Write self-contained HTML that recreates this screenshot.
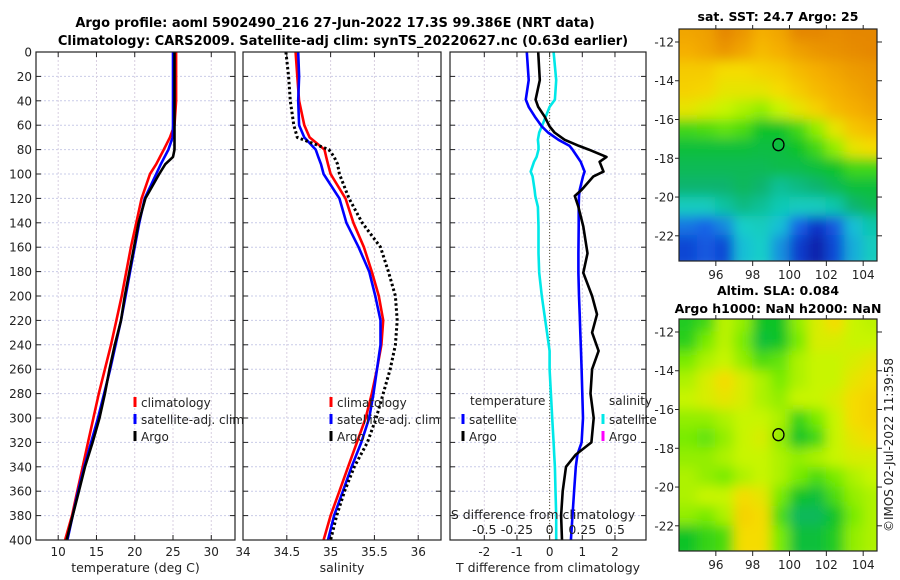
<!DOCTYPE html>
<html><head><meta charset="utf-8">
<style>
html,body{margin:0;padding:0;background:#fff;}
svg{display:block;font-family:"DejaVu Sans","Liberation Sans",sans-serif;}
</style></head>
<body>
<svg id="fig" width="900" height="580" viewBox="0 0 900 580" xmlns="http://www.w3.org/2000/svg">
<defs>
<filter id="blur1" x="-5%" y="-5%" width="110%" height="110%"><feGaussianBlur stdDeviation="6"/></filter>
<clipPath id="clipA"><rect x="679" y="29" width="198" height="232"/></clipPath>
<clipPath id="clipB"><rect x="679" y="319" width="198" height="232"/></clipPath>
</defs>
<text x="335" y="27" text-anchor="middle" font-size="13" font-weight="bold">Argo profile: aoml 5902490_216 27-Jun-2022 17.3S 99.386E (NRT data)</text>
<text x="343" y="45" text-anchor="middle" font-size="13" font-weight="bold">Climatology: CARS2009. Satellite-adj clim: synTS_20220627.nc (0.63d earlier)</text>
<g id="g"></g>
</svg>
<script>
// ---------- data ----------
const depths = [0,20,40,60,70,80,86,92,100,120,140,160,180,200,220,240,260,280,300,320,340,360,380,400];
const tempClim = [25.4,25.4,25.4,25.2,24.6,23.8,23.3,22.8,22.0,20.9,20.2,19.5,18.9,18.3,17.6,16.9,16.1,15.3,14.6,13.9,13.2,12.5,11.8,10.9];
const tempSat  = [25.0,25.0,25.0,25.0,24.95,24.4,23.9,23.4,22.8,21.3,20.6,20.0,19.4,18.8,18.2,17.5,16.8,16.0,15.2,14.3,13.4,12.6,11.9,11.2];
const tempArgo = [25.2,25.2,25.2,25.2,25.2,25.2,25.0,24.0,23.2,21.4,20.5,19.9,19.3,18.7,18.2,17.4,16.7,16.1,15.4,14.5,13.5,12.7,11.9,11.1];
const salClim  = [34.60,34.62,34.64,34.70,34.76,34.93,34.95,34.97,35.00,35.17,35.26,35.38,35.47,35.55,35.60,35.58,35.53,35.47,35.40,35.30,35.20,35.10,35.00,34.92];
const salSat   = [34.63,34.64,34.63,34.64,34.70,34.83,34.86,34.89,34.92,35.10,35.18,35.32,35.44,35.51,35.57,35.57,35.53,35.49,35.44,35.35,35.24,35.14,35.04,34.97];
const salArgo  = [34.49,34.52,34.54,34.58,34.62,34.98,35.04,35.08,35.10,35.21,35.36,35.57,35.66,35.74,35.76,35.74,35.68,35.60,35.52,35.42,35.27,35.16,35.07,35.00];
const diffDepths = [0,23,39,45,53,61,66,72,77,80,86,90,98,102,113,118,127,143,165,181,200,215,230,245,260,280,300,320,330,340,360,380,400];
const tDiffSat  = [-0.7,-0.64,-0.73,-0.64,-0.45,-0.24,-0.05,0.27,0.61,0.7,0.85,0.95,1.07,1.02,0.92,0.9,0.89,0.89,0.88,0.88,0.9,0.92,0.94,0.96,0.98,1.0,1.02,0.98,0.85,0.8,0.75,0.7,0.65];
const tDiffArgo = [-0.35,-0.3,-0.43,-0.35,-0.15,0.0,0.15,0.46,0.9,1.2,1.74,1.53,1.65,1.34,0.98,0.77,0.88,1.03,1.16,1.03,1.3,1.45,1.3,1.5,1.3,1.25,1.35,1.28,0.8,0.5,0.4,0.35,0.38];
const sDiffSat  = [0.03,0.05,0.04,0.0,-0.03,-0.06,-0.08,-0.09,-0.085,-0.085,-0.1,-0.12,-0.145,-0.13,-0.115,-0.11,-0.09,-0.085,-0.085,-0.08,-0.06,-0.04,-0.02,0.0,0.0,0.01,0.02,0.03,0.035,0.04,0.045,0.05,0.05];
const xTicksT = [10,15,20,25,30];
const xTicksS = [34,34.5,35,35.5,36];
const xTicksD = [-2,-1,0,1,2];
const sDiffTicks = [-0.5,-0.25,0,0.25,0.5];
const yTicks = [0,20,40,60,80,100,120,140,160,180,200,220,240,260,280,300,320,340,360,380,400];
const lonTicks = [96,98,100,102,104];
const latTicks = [-12,-14,-16,-18,-20,-22];
const gridLats = [-11.5,-12.5,-13.5,-14.5,-15.5,-16.5,-17.5,-18.5,-19.5,-20.5,-21.5,-22.5];
const gridLons = [94.5,95.5,96.5,97.5,98.5,99.5,100.5,101.5,102.5,103.5,104.5];
const sstGrid = [
[0.82,0.83,0.88,0.85,0.80,0.82,0.88,0.88,0.87,0.88,0.88],
[0.80,0.82,0.85,0.82,0.78,0.80,0.83,0.85,0.86,0.87,0.88],
[0.75,0.75,0.72,0.72,0.74,0.75,0.78,0.80,0.82,0.84,0.85],
[0.74,0.73,0.70,0.70,0.70,0.72,0.75,0.78,0.80,0.82,0.84],
[0.70,0.68,0.66,0.64,0.62,0.66,0.70,0.74,0.78,0.80,0.82],
[0.55,0.56,0.58,0.56,0.50,0.50,0.55,0.62,0.70,0.76,0.78],
[0.48,0.48,0.48,0.48,0.47,0.47,0.50,0.55,0.62,0.70,0.72],
[0.45,0.45,0.45,0.45,0.45,0.46,0.46,0.48,0.50,0.55,0.55],
[0.42,0.42,0.42,0.44,0.42,0.38,0.40,0.42,0.45,0.48,0.48],
[0.34,0.34,0.37,0.40,0.38,0.35,0.34,0.34,0.36,0.42,0.45],
[0.22,0.20,0.24,0.33,0.34,0.30,0.20,0.10,0.18,0.30,0.36],
[0.14,0.18,0.14,0.30,0.33,0.25,0.12,0.05,0.15,0.28,0.34]];
const slaGrid = [
[0.52,0.55,0.65,0.62,0.50,0.50,0.62,0.68,0.72,0.66,0.65],
[0.53,0.60,0.65,0.60,0.48,0.50,0.60,0.68,0.68,0.66,0.66],
[0.60,0.64,0.66,0.62,0.56,0.58,0.64,0.66,0.66,0.68,0.70],
[0.64,0.68,0.72,0.68,0.64,0.60,0.64,0.66,0.66,0.70,0.72],
[0.66,0.68,0.70,0.68,0.64,0.62,0.66,0.66,0.68,0.72,0.74],
[0.62,0.62,0.64,0.66,0.66,0.64,0.54,0.60,0.66,0.72,0.74],
[0.60,0.58,0.62,0.66,0.68,0.62,0.50,0.55,0.66,0.70,0.72],
[0.62,0.62,0.64,0.66,0.66,0.64,0.62,0.64,0.66,0.68,0.68],
[0.64,0.62,0.60,0.64,0.66,0.64,0.60,0.56,0.60,0.64,0.66],
[0.64,0.66,0.66,0.72,0.70,0.60,0.50,0.48,0.56,0.62,0.64],
[0.62,0.60,0.64,0.74,0.72,0.56,0.44,0.44,0.50,0.60,0.64],
[0.50,0.54,0.56,0.72,0.72,0.60,0.48,0.48,0.52,0.62,0.64]];
const argoLon = 99.4, argoLat = -17.3;

// ---------- helpers ----------
const NS = "http://www.w3.org/2000/svg";
const G = document.getElementById('g');
function mk(tag, attrs, parent){ const e=document.createElementNS(NS,tag); for(const k in attrs) e.setAttribute(k,attrs[k]); (parent||G).appendChild(e); return e; }
const TOP=52, BOT=540;
const yD = d => TOP + (d/400)*(BOT-TOP);
function lin(d0,d1,r0,r1){ return v => r0 + (v-d0)/(d1-d0)*(r1-r0); }
const panels = [
 {x0:36,x1:235,xs:lin(7.1,33.1,36,235),ticks:xTicksT,label:"temperature (deg C)",name:"temperature"},
 {x0:243,x1:441,xs:lin(34,36.26,243,441),ticks:xTicksS,label:"salinity",name:"salinity"},
 {x0:450,x1:646,xs:lin(-3.05,2.95,450,646),ticks:xTicksD,label:"T difference from climatology",name:"difference"}
];
function fmt(v){ return (v<0?"-":"")+String(Math.abs(v)); }
panels.forEach((p,pi)=>{
  const ax = mk('g',{});
  
  
  yTicks.forEach(t=>{ const l=mk('line',{x1:p.x0,x2:p.x1,y1:yD(t),y2:yD(t),stroke:"#c9cce8","stroke-width":1,"stroke-dasharray":"2,2"},ax);   });
  p.ticks.forEach(t=>{ const x=p.xs(t); const l=mk('line',{x1:x,x2:x,y1:TOP,y2:BOT,stroke:"#d8cfe0","stroke-width":1,"stroke-dasharray":"2,2"},ax);  
    const tl=mk('text',{x:x,y:556,"text-anchor":"middle","font-size":12,fill:"#222"},ax); tl.textContent=fmt(t);  
    mk('line',{x1:x,x2:x,y1:BOT,y2:BOT-5,stroke:"#222"},ax); mk('line',{x1:x,x2:x,y1:TOP,y2:TOP+5,stroke:"#222"},ax);
  });
  yTicks.forEach(t=>{ mk('line',{x1:p.x0,x2:p.x0+5,y1:yD(t),y2:yD(t),stroke:"#222"},ax); mk('line',{x1:p.x1,x2:p.x1-5,y1:yD(t),y2:yD(t),stroke:"#222"},ax);
    if(pi===0){ const tl=mk('text',{x:p.x0-4,y:yD(t)+4.5,"text-anchor":"end","font-size":12,fill:"#222"},ax); tl.textContent=t;   }
  });
  const xl=mk('text',{x:(p.x0+p.x1)/2,y:572,"text-anchor":"middle","font-size":12.5,fill:"#222"},ax); xl.textContent=p.label;
  
  
  p.ax=ax;
});
function profile(xs, vals, dep, color, name, dash, scale){
  const pts = vals.map((v,i)=> xs(v*(scale||1)).toFixed(1)+","+yD(dep[i]).toFixed(1)).join(" ");
  const l = mk('polyline',{points:pts,fill:"none",stroke:color,"stroke-width":dash?3:2.6,"stroke-linejoin":"round"});
  if(dash){ l.setAttribute('stroke-dasharray',dash); }
  
  
}
const zl = mk('line',{x1:panels[2].xs(0),x2:panels[2].xs(0),y1:TOP,y2:BOT,stroke:"#555533","stroke-width":1,"stroke-dasharray":"1,2"});


profile(panels[0].xs,tempClim,depths,"#ff0000","temp-climatology-line");
profile(panels[0].xs,tempSat,depths,"#0000ff","temp-satellite-line");
profile(panels[0].xs,tempArgo,depths,"#000000","temp-argo-line");
profile(panels[1].xs,salClim,depths,"#ff0000","sal-climatology-line");
profile(panels[1].xs,salSat,depths,"#0000ff","sal-satellite-line");
profile(panels[1].xs,salArgo,depths,"#000000","sal-argo-line","2.5,2.5");
profile(panels[2].xs,sDiffSat,diffDepths,"#00e8e8","sdiff-satellite-line",null,4);
profile(panels[2].xs,tDiffSat,diffDepths,"#0000ff","tdiff-satellite-line");
profile(panels[2].xs,tDiffArgo,diffDepths,"#000000","tdiff-argo-line");
panels.forEach(p=>{ const r=mk('rect',{x:p.x0,y:TOP,width:p.x1-p.x0,height:BOT-TOP,fill:"none",stroke:"#222","stroke-width":1.2});   });
const sl=mk('text',{x:543,y:519,"text-anchor":"middle","font-size":12.5,fill:"#222"}); sl.textContent="S difference from climatology";


sDiffTicks.forEach(t=>{ const tl=mk('text',{x:panels[2].xs(t*4),y:534,"text-anchor":"middle","font-size":12.5,fill:"#222"}); tl.textContent=fmt(t);
  
   });
function legItem(x,y,color,text,name){
  const g=mk('g',{});
  
  
  mk('line',{x1:x,x2:x,y1:y-10,y2:y,stroke:color,"stroke-width":3},g);
  if(text){ const t=mk('text',{x:x+6,y:y,"font-size":12,fill:"#222"},g); t.textContent=text; }
}
[[135,"temp"],[331,"sal"]].forEach(([x,n])=>{
  legItem(x,407,"#ff0000","climatology",n+"-legend-climatology");
  legItem(x,424,"#0000ff","satellite-adj. clim",n+"-legend-satellite");
  legItem(x,441,"#000000","Argo",n+"-legend-argo");
});
const lt=mk('text',{x:470,y:405,"font-size":12,fill:"#222"}); lt.textContent="temperature";
 
legItem(463,424,"#0000ff","satellite","diff-legend-temp-satellite");
legItem(463,441,"#000000","Argo","diff-legend-temp-argo");
const ls=mk('text',{x:609,y:405,"font-size":12,fill:"#222"}); ls.textContent="salinity";
 
legItem(603,424,"#00e8e8","satellite","diff-legend-sal-satellite");
legItem(603,441,"#ff00ff","Argo","diff-legend-sal-argo");

// ---------- maps ----------
const stops=[[0,[10,20,140]],[0.1,[10,50,200]],[0.2,[20,100,230]],[0.32,[20,210,210]],[0.42,[10,180,110]],[0.5,[10,195,40]],[0.6,[120,235,0]],[0.66,[200,245,0]],[0.72,[245,220,0]],[0.8,[245,175,0]],[0.9,[225,125,0]],[1,[200,90,0]]];
function cmap(v){ for(let i=1;i<stops.length;i++){ if(v<=stops[i][0]){ const a=stops[i-1],b=stops[i]; const f=(v-a[0])/(b[0]-a[0]); const c=a[1].map((c0,k)=>Math.round(c0+(b[1][k]-c0)*f)); return `rgb(${c})`; } } return `rgb(${stops[stops.length-1][1]})`; }
function drawMap(grid, y0, clip, name, title1, title2){
  const mx = lin(94.0,104.75,679,877), my = lin(-11.33,-23.3,y0,y0+232);
  const g=mk('g',{"clip-path":`url(#${clip})`});
  
  
  const inner=mk('g',{filter:"url(#blur1)"},g);
  grid.forEach((row,r)=>row.forEach((v,c)=>{
    const x=mx(gridLons[c]-0.5), y=my(gridLats[r]+0.5);
    const cw=mx(gridLons[c]+0.5)-x, ch=my(gridLats[r]-0.5)-y;
    const rc=mk('rect',{x:x-(c===0?15:0)-0.5,y:y-(r===0?15:0)-0.5,width:cw+1+(c===0?15:0)+(c===row.length-1?15:0),height:ch+1+(r===0?15:0)+(r===grid.length-1?15:0),fill:cmap(v)},inner);
    
    
  }));
  const fr=mk('rect',{x:679,y:y0,width:198,height:232,fill:"none",stroke:"#222","stroke-width":1.2});
   
  const mkr=mk('ellipse',{cx:mx(argoLon),cy:my(argoLat),rx:5.5,ry:6,fill:"none",stroke:"#000","stroke-width":1.3});
   
  lonTicks.forEach(t=>{ const x=mx(t); mk('line',{x1:x,x2:x,y1:y0+232,y2:y0+237,stroke:"#222"}); mk('line',{x1:x,x2:x,y1:y0,y2:y0-4,stroke:"#222"});
    const tl=mk('text',{x:x,y:y0+250,"text-anchor":"middle","font-size":12,fill:"#222"}); tl.textContent=t;   });
  latTicks.forEach(t=>{ const y=my(t); mk('line',{x1:675,x2:679,y1:y,y2:y,stroke:"#222"}); mk('line',{x1:877,x2:882,y1:y,y2:y,stroke:"#222"});
    const tl=mk('text',{x:674,y:y+4.5,"text-anchor":"end","font-size":12,fill:"#222"}); tl.textContent=t;   });
  const t1=mk('text',{x:778,y:title2?y0-24:y0-8,"text-anchor":"middle","font-size":12.5,"font-weight":"bold"}); t1.textContent=title1;
   
  if(title2){ const t2=mk('text',{x:778,y:y0-6,"text-anchor":"middle","font-size":12.5,"font-weight":"bold"}); t2.textContent=title2;
      }
}
drawMap(sstGrid,29,"clipA","sst-map","sat. SST: 24.7 Argo: 25");
drawMap(slaGrid,319,"clipB","sla-map","Altim. SLA: 0.084","Argo h1000: NaN h2000: NaN");
const cr=mk('text',{x:0,y:0,"text-anchor":"middle","font-size":12,fill:"#222",transform:"translate(893,445) rotate(-90)"}); cr.textContent="©IMOS 02-Jul-2022 11:39:58";


</script>
</body></html>
